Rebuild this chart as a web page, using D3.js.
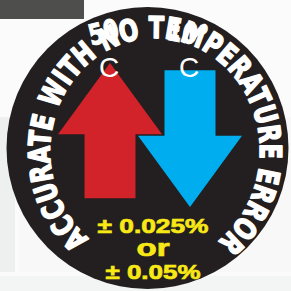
<!DOCTYPE html>
<html>
<head>
<meta charset="utf-8">
<script src="https://cdn.jsdelivr.net/npm/d3@7"></script>
<style>
  html, body { margin: 0; padding: 0; background: #fbfbfb; }
  svg { display: block; }
</style>
</head>
<body>
<div id="badge"></div>
<script>
// badge data
const ringText = "ACCURATE WITH NO TEMPERATURE ERROR";
const overlayLabels = ["50", "10°"];
const arrowNames = ["hot", "cold"];
const arrowUnits = ["C", "C"];
const arrowTail = [0.06, 0.95];
const arrowTip = [1, 0];
const accuracyLines = ["± 0.025%", "or", "± 0.05%"];
const accuracyWidths = [111, 33, 95];

const width = 291, height = 291;
const cx = 147.5, cy = 148, radius = 141;

const svg = d3.select("#badge")
    .append("svg")
    .attr("width", width)
    .attr("height", height);

// background panels
svg.append("rect").attr("x", 0).attr("y", 117).attr("width", 15).attr("height", 155).attr("fill", "#eef0f0");
svg.append("rect").attr("x", 19).attr("y", 117).attr("width", 272).attr("height", 155).attr("fill", "#f8f8f8");
svg.append("rect").attr("x", 0).attr("y", 276).attr("width", 291).attr("height", 15).attr("fill", "#f3f4f4");
svg.append("rect").attr("x", 0).attr("y", 0).attr("width", 84).attr("height", 19).attr("fill", "#4e4e4c");

// black disc
svg.append("circle")
    .attr("cx", cx).attr("cy", cy).attr("r", radius)
    .attr("fill", "#231f20");

// scales for the arrows
const x = d3.scaleBand().domain(arrowNames).range([70, 230]);
const y = d3.scaleLinear().domain([0, 1]).range([207, 63]);
const colour = d3.scaleOrdinal().domain(arrowNames).range(["#d2222a", "#00adee"]);

const headW = 104, shaftW = 51, headLen = 0.495;

function arrowPath(i) {
    const c = x(arrowNames[i]) + x.bandwidth() / 2;
    const dir = arrowTip[i] > arrowTail[i] ? 1 : -1;
    const base = arrowTip[i] - dir * headLen;
    const p = d3.path();
    p.moveTo(c, y(arrowTip[i]));
    p.lineTo(c + headW / 2, y(base));
    p.lineTo(c + shaftW / 2, y(base));
    p.lineTo(c + shaftW / 2, y(arrowTail[i]));
    p.lineTo(c - shaftW / 2, y(arrowTail[i]));
    p.lineTo(c - shaftW / 2, y(base));
    p.lineTo(c - headW / 2, y(base));
    p.closePath();
    return p.toString();
}

svg.selectAll("path.arrow")
    .data([1, 0])
    .join("path")
    .attr("class", "arrow")
    .attr("d", i => arrowPath(i))
    .attr("fill", i => colour(arrowNames[i]));

// unit labels
svg.selectAll("text.unit")
    .data(arrowUnits)
    .join("text")
    .attr("class", "unit")
    .attr("x", (d, i) => x(arrowNames[i]) + x.bandwidth() / 2 - 1)
    .attr("y", 77)
    .attr("text-anchor", "middle")
    .attr("font-family", "Liberation Sans, Arial, sans-serif")
    .attr("font-size", 28)
    .attr("fill", "#ffffff")
    .text(d => d);

// ring text along a slightly elliptical arc
const ecx = 155, ecy = 151, erx = 105, ery = 113;
const t0 = 129 * Math.PI / 180, t1 = 413 * Math.PI / 180;
const pt = t => [ecx + erx * Math.cos(t), ecy + ery * Math.sin(t)];
const [sx, sy] = pt(t0), [ex, ey] = pt(t1);
const ringPath = svg.append("defs").append("path")
    .attr("id", "ring")
    .attr("d", `M${sx},${sy}A${erx},${ery} 0 1 1 ${ex},${ey}`);
const ringLen = ringPath.node().getTotalLength();

svg.append("text")
    .attr("font-family", "DejaVu Sans, sans-serif")
    .attr("font-weight", "bold")
    .attr("font-size", 30)
    .attr("fill", "#ffffff")
    .attr("stroke", "#ffffff")
    .attr("stroke-width", 1.6)
    .attr("stroke-linejoin", "round")
    .append("textPath")
    .attr("href", "#ring")
    .attr("textLength", ringLen)
    .attr("lengthAdjust", "spacingAndGlyphs")
    .text(ringText);

// overlapping labels near the top
svg.selectAll("text.overlay")
    .data(overlayLabels)
    .join("text")
    .attr("class", "overlay")
    .attr("transform", (d, i) => i === 0 ? "translate(106,42) rotate(-14) scale(0.75,1)" : "translate(186,43) rotate(10) scale(0.75,1)")
    .attr("text-anchor", "middle")
    .attr("font-family", "DejaVu Sans, sans-serif")
    .attr("font-weight", "bold")
    .attr("font-size", 29)
    .attr("fill", "#ffffff")
    .attr("stroke", "#ffffff")
    .attr("stroke-width", 1)
    .text(d => d);

// accuracy text
const lineY = d3.scalePoint().domain(accuracyLines).range([233, 279]);
svg.selectAll("text.acc")
    .data(accuracyLines)
    .join("text")
    .attr("class", "acc")
    .attr("x", (d, i) => 153 - accuracyWidths[i] / 2)
    .attr("y", d => lineY(d))
    .attr("textLength", (d, i) => accuracyWidths[i])
    .attr("lengthAdjust", "spacingAndGlyphs")
    .attr("font-family", "Liberation Sans, Arial, sans-serif")
    .attr("font-weight", "bold")
    .attr("font-size", d => d === "or" ? 23 : 21)
    .attr("fill", "#f7e816")
    .attr("stroke", "#f7e816")
    .attr("stroke-width", 0.7)
    .text(d => d);
</script>
</body>
</html>
